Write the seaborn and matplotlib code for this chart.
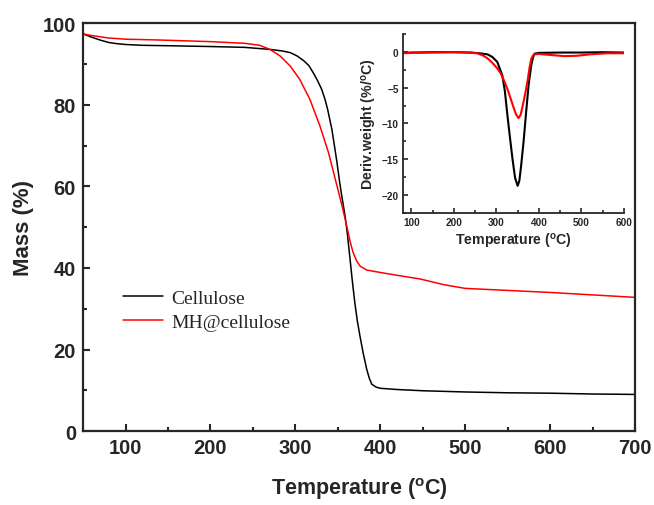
import matplotlib
matplotlib.use("Agg")
import matplotlib.pyplot as plt
from matplotlib.ticker import MultipleLocator
import pandas as pd
import seaborn as sns

# --- TG curves: mass (%) vs temperature (°C) ---
cell_T = [50, 60, 70, 80, 90, 100, 120, 150, 200, 240, 270, 285, 294, 302, 310,
          316, 321, 326, 331, 335, 338, 343, 346, 349, 352, 354, 358.5, 361, 364,
          367, 370, 373, 376, 380, 384, 387, 390, 395, 400, 420, 450, 500, 550,
          600, 650, 700]
cell_mass = [97.4, 96.6, 95.9, 95.3, 95.0, 94.8, 94.6, 94.5, 94.3, 94.1, 93.6, 93.2,
             92.8, 92.0, 90.8, 89.6, 87.9, 86.0, 83.8, 81.3, 78.9, 74.0, 70.0, 65.9,
             61.3, 58.5, 52.8, 48.8, 43.0, 37.0, 31.5, 27.0, 23.4, 19.0, 15.2, 13.0,
             11.5, 10.8, 10.5, 10.2, 9.9, 9.6, 9.4, 9.3, 9.1, 9.0]

mh_T = [50, 60, 70, 80, 100, 140, 200, 240, 258, 270, 282, 294, 305, 317, 329,
        339, 347, 355, 360.5, 364.5, 368, 372, 376, 384, 400, 423, 447, 475, 500,
        550, 600, 650, 700]
mh_mass = [97.4, 97.0, 96.7, 96.4, 96.1, 95.9, 95.5, 95.1, 94.6, 93.6, 92.0, 89.5,
           86.3, 81.4, 74.8, 68.3, 61.8, 55.2, 50.3, 46.5, 43.8, 41.8, 40.5, 39.5,
           38.9, 38.1, 37.3, 35.9, 35.0, 34.5, 34.0, 33.4, 32.8]

# --- DTG curves: derivative weight (%/°C) vs temperature (°C) ---
dcell_T = [80, 100, 150, 200, 240, 260, 279, 290, 302, 314, 320, 326, 332, 338,
           344, 350, 354, 358, 364, 370, 376, 382, 386, 390, 400, 450, 500, 550, 600]
dcell_val = [-0.15, -0.1, -0.05, -0.05, -0.1, -0.2, -0.35, -0.7, -1.4, -3.3, -5.5,
             -8.9, -12.0, -15.0, -17.6, -18.7, -18.0, -16.0, -12.5, -8.4, -4.5,
             -1.9, -0.8, -0.25, -0.15, -0.1, -0.1, -0.05, -0.1]

dmh_T = [80, 100, 150, 200, 230, 255, 268, 279, 290, 302, 310, 318, 326, 334, 340,
         346, 352, 357, 362, 368, 374, 378, 382, 386, 390, 400, 430, 460, 490, 520,
         560, 600]
dmh_val = [-0.2, -0.15, -0.1, -0.05, -0.1, -0.2, -0.5, -0.9, -1.5, -2.3, -3.0, -4.0,
           -5.2, -6.6, -7.7, -8.7, -9.25, -8.8, -7.5, -5.8, -3.8, -2.2, -1.0, -0.5,
           -0.35, -0.3, -0.45, -0.6, -0.55, -0.35, -0.2, -0.2]

series_names = ["Cellulose", "MH@cellulose"]
series_colors = ["black", "red"]

tg = pd.concat([
    pd.DataFrame({"T": cell_T, "v": cell_mass, "s": series_names[0]}),
    pd.DataFrame({"T": mh_T, "v": mh_mass, "s": series_names[1]}),
], ignore_index=True)
dtg = pd.concat([
    pd.DataFrame({"T": dcell_T, "v": dcell_val, "s": series_names[0]}),
    pd.DataFrame({"T": dmh_T, "v": dmh_val, "s": series_names[1]}),
], ignore_index=True)

sns.set_style("ticks")
plt.rcParams["font.family"] = ["Liberation Sans", "DejaVu Sans"]
plt.rcParams["mathtext.fontset"] = "custom"
plt.rcParams["mathtext.rm"] = "Liberation Sans:bold"
plt.rcParams["mathtext.bf"] = "Liberation Sans:bold"
plt.rcParams["mathtext.it"] = "Liberation Sans:bold"

palette = dict(zip(series_names, series_colors))

fig = plt.figure(figsize=(6.54, 5.06), dpi=100)
ax = fig.add_axes([0.127, 0.146, 0.844, 0.806])

sns.lineplot(data=tg, x="T", y="v", hue="s", palette=palette, ax=ax,
             linewidth=1.1, sort=False, estimator=None)

ax.set_xlim(50, 700)
ax.set_ylim(0, 100)
ax.xaxis.set_major_locator(MultipleLocator(100))
ax.xaxis.set_minor_locator(MultipleLocator(50))
ax.yaxis.set_major_locator(MultipleLocator(20))
ax.yaxis.set_minor_locator(MultipleLocator(10))
ax.tick_params(which="both", direction="in", width=1.5, top=False, right=False)
ax.tick_params(which="major", length=5, labelsize=14.5, pad=5)
ax.tick_params(which="minor", length=3)
for lab in ax.get_xticklabels() + ax.get_yticklabels():
    lab.set_fontweight("bold")
for sp in ax.spines.values():
    sp.set_linewidth(1.6)
    sp.set_visible(True)
ax.set_xlabel(r"Temperature ($^{\mathrm{o}}$C)", fontsize=15.5, fontweight="bold", labelpad=13)
ax.set_ylabel("Mass (%)", fontsize=16, fontweight="bold", labelpad=6)

leg = ax.legend(loc="upper left", bbox_to_anchor=(0.04, 0.39), frameon=False,
                prop={"family": "Liberation Serif", "size": 14},
                handlelength=2.1, handletextpad=0.4, labelspacing=0.3)
for h in leg.get_lines():
    h.set_linewidth(1.1)

# inset: derivative thermogravimetry
ins = fig.add_axes([0.616, 0.577, 0.338, 0.354])
sns.lineplot(data=dtg, x="T", y="v", hue="s", palette=palette, ax=ins,
             linewidth=1.5, sort=False, estimator=None, legend=False)
ins.set_xlim(80, 600)
ins.set_ylim(-22.5, 2.5)
ins.xaxis.set_major_locator(MultipleLocator(100))
ins.xaxis.set_minor_locator(MultipleLocator(50))
ins.yaxis.set_major_locator(MultipleLocator(5))
ins.yaxis.set_minor_locator(MultipleLocator(2.5))
ins.spines["top"].set_visible(False)
ins.spines["right"].set_visible(False)
for sp in ("left", "bottom"):
    ins.spines[sp].set_linewidth(1.3)
ins.tick_params(which="both", direction="in", width=1.2, top=False, right=False)
ins.tick_params(which="major", length=3.5, labelsize=7.2, pad=3)
ins.tick_params(which="minor", length=2)
for lab in ins.get_xticklabels() + ins.get_yticklabels():
    lab.set_fontweight("bold")
ins.set_xlabel(r"Temperature ($^{\mathrm{o}}$C)", fontsize=10.2, fontweight="bold", labelpad=3)
ins.set_ylabel(r"Deriv.weight (%/$^{\mathrm{o}}$C)", fontsize=10.2, fontweight="bold", labelpad=2)
ins.patch.set_alpha(0)

fig.savefig("out.png", dpi=100)
